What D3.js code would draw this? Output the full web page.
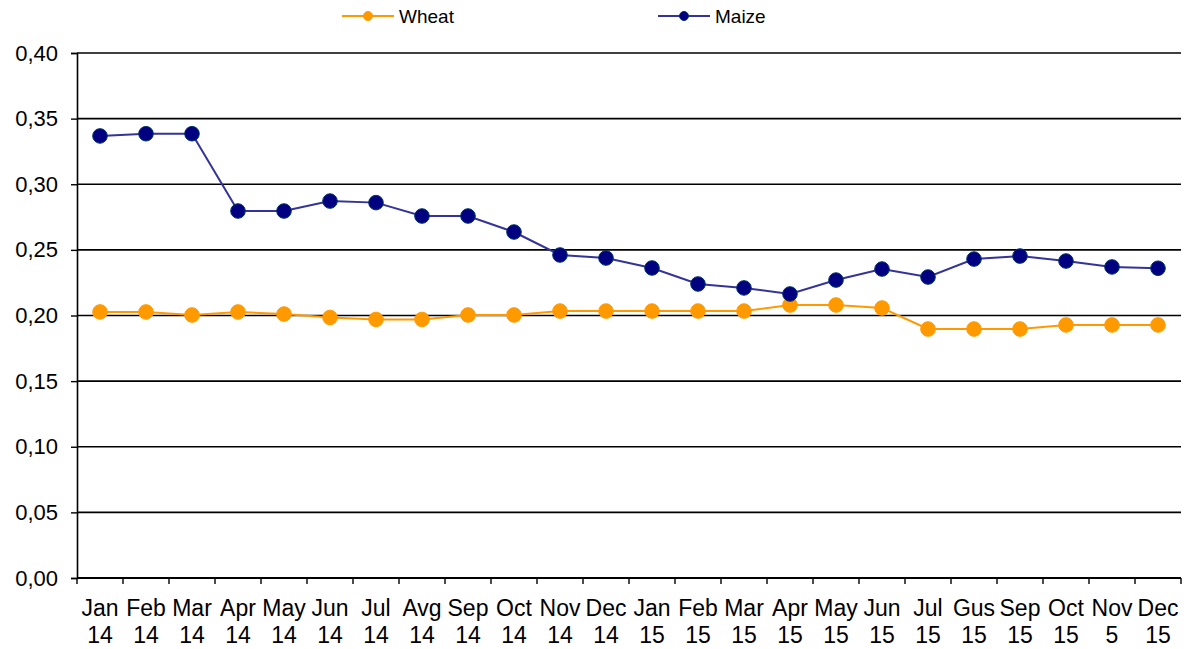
<!DOCTYPE html>
<html>
<head>
<meta charset="utf-8">
<script src="https://cdn.jsdelivr.net/npm/d3@7"></script>
<style>
  body { margin: 0; background: #fff; }
  svg { display: block; font-family: "Liberation Sans", Arial, sans-serif; }
</style>
</head>
<body>
<svg width="1194" height="649"></svg>
<script>
var months = ["Jan","Feb","Mar","Apr","May","Jun","Jul","Avg","Sep","Oct","Nov","Dec",
              "Jan","Feb","Mar","Apr","May","Jun","Jul","Gus","Sep","Oct","Nov","Dec"];
var years = ["14","14","14","14","14","14","14","14","14","14","14","14",
             "15","15","15","15","15","15","15","15","15","15","5","15"];
var wheat = [0.2027,0.2027,0.2004,0.2027,0.2011,0.1985,0.1970,0.1970,0.2004,0.2004,0.2034,0.2034,
             0.2034,0.2034,0.2034,0.2080,0.2080,0.2057,0.1897,0.1897,0.1897,0.1928,0.1928,0.1928];
var maize = [0.3368,0.3385,0.3385,0.2796,0.2796,0.2872,0.2860,0.2758,0.2758,0.2636,0.2461,0.2438,
             0.2362,0.2240,0.2210,0.2164,0.2270,0.2354,0.2293,0.2430,0.2453,0.2415,0.2370,0.2360];
var yTicks = [0, 0.05, 0.10, 0.15, 0.20, 0.25, 0.30, 0.35, 0.40];

var series = [
  {name: "Wheat", values: wheat, line: "#ff9900", fill: "#ff9900", stroke: "#ff9900"},
  {name: "Maize", values: maize, line: "#333399", fill: "#000080", stroke: "#003366"}
];

(function() {
var svg = d3.select("svg");
var pLeft = 77, pRight = 1181, pTop = 53, pBottom = 578;

var x = d3.scaleBand().domain(d3.range(months.length)).range([pLeft, pRight]);
var y = d3.scaleLinear().domain([0, 0.40]).range([pBottom, pTop]);

// grid lines
svg.append("g").selectAll("line")
  .data(yTicks.slice(1))
  .enter().append("line")
    .attr("x1", pLeft).attr("x2", pRight)
    .attr("y1", function(d) { return y(d); })
    .attr("y2", function(d) { return y(d); })
    .attr("stroke", "#000").attr("stroke-width", 1.6);

// y axis
var yAxis = svg.append("g")
  .attr("transform", "translate(" + pLeft + ",0)")
  .call(d3.axisLeft(y).tickValues(yTicks).tickSize(6).tickPadding(13)
    .tickFormat(function(d) { return d3.format(".2f")(d).replace(".", ","); }));
yAxis.select(".domain").attr("stroke", "#000").attr("stroke-width", 1.6);
yAxis.selectAll(".tick line").attr("stroke", "#000").attr("stroke-width", 1.4);
yAxis.selectAll("text").attr("font-size", 22).attr("fill", "#000")
  .attr("font-family", "Liberation Sans, Arial, sans-serif");

// x axis
var xg = svg.append("g");
xg.append("line").attr("x1", pLeft).attr("x2", pRight).attr("y1", pBottom).attr("y2", pBottom)
  .attr("stroke", "#000").attr("stroke-width", 2);
xg.selectAll(".xt")
  .data(d3.range(months.length + 1))
  .enter().append("line")
    .attr("class", "xt")
    .attr("x1", function(i) { return i < months.length ? x(i) : pRight; })
    .attr("x2", function(i) { return i < months.length ? x(i) : pRight; })
    .attr("y1", pBottom).attr("y2", pBottom + 6)
    .attr("stroke", "#000").attr("stroke-width", 1.4);
var lbl = xg.selectAll(".xl")
  .data(months)
  .enter().append("text")
    .attr("class", "xl")
    .attr("text-anchor", "middle")
    .attr("font-size", 23)
    .attr("fill", "#000");
lbl.append("tspan")
  .attr("x", function(d, i) { return x(i) + x.bandwidth() / 2; })
  .attr("y", 616)
  .text(function(d) { return d; });
lbl.append("tspan")
  .attr("x", function(d, i) { return x(i) + x.bandwidth() / 2; })
  .attr("y", 643)
  .text(function(d, i) { return years[i]; });

var line = d3.line()
  .x(function(d, i) { return x(i) + x.bandwidth() / 2; })
  .y(function(d) { return y(d); });

series.forEach(function(s) {
  var g = svg.append("g");
  g.append("path")
    .attr("d", line(s.values))
    .attr("fill", "none")
    .attr("stroke", s.line)
    .attr("stroke-width", 2);
  g.selectAll("circle")
    .data(s.values)
    .enter().append("circle")
      .attr("cx", function(d, i) { return x(i) + x.bandwidth() / 2; })
      .attr("cy", function(d) { return y(d); })
      .attr("r", 7.3)
      .attr("fill", s.fill)
      .attr("stroke", s.stroke)
      .attr("stroke-width", 1);
});

// legend
var legendX = [342, 658];
series.forEach(function(s, k) {
  var g = svg.append("g").attr("transform", "translate(" + legendX[k] + ",16)");
  g.append("line").attr("x1", 0).attr("x2", 52).attr("y1", 0).attr("y2", 0)
    .attr("stroke", s.line).attr("stroke-width", 2);
  g.append("circle").attr("cx", 26).attr("cy", 0).attr("r", 4.5)
    .attr("fill", s.fill).attr("stroke", s.stroke);
  g.append("text").attr("x", 57).attr("y", 7)
    .attr("font-size", 19).attr("fill", "#000")
    .text(s.name);
});
})();
</script>
</body>
</html>
